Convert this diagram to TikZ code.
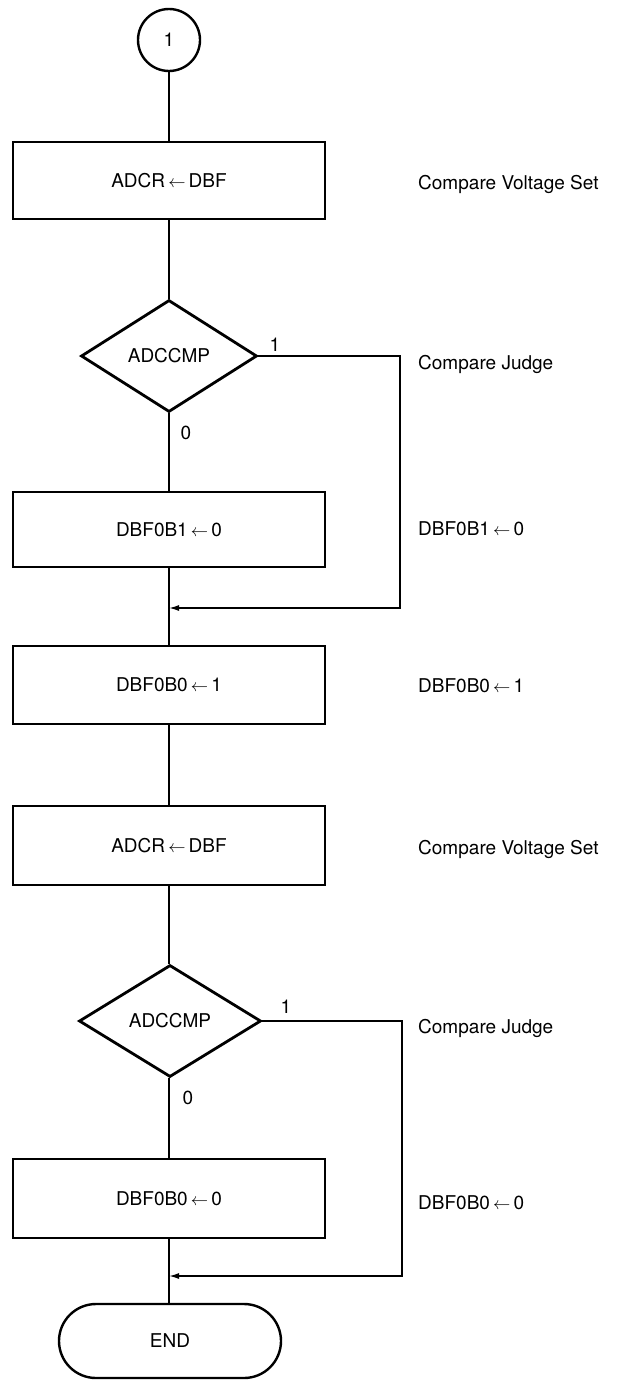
\documentclass[tikz,border=0pt]{standalone}
\usepackage{fontspec}
\setmainfont{TeX Gyre Heros}
\usetikzlibrary{shapes.geometric,shapes.misc,arrows.meta}
\begin{document}
\begin{tikzpicture}[x=1pt,y=-1pt,
  every node/.style={font=\fontsize{19}{22}\selectfont},
  procbox/.style={draw,line width=2.8pt,minimum width=312pt,minimum height=77pt,inner sep=0pt},
  decbox/.style={draw,diamond,line width=2.8pt,minimum width=176pt,minimum height=112pt,inner sep=0pt},
  connbox/.style={draw,circle,line width=2.4pt,minimum size=62pt,inner sep=0pt},
  termbox/.style={draw,rounded rectangle,line width=2.4pt,minimum width=222pt,minimum height=74pt,inner sep=0pt},
  flow/.style={line width=1.5pt},
  arr/.style={line width=1.5pt,-{Latex[length=10pt,width=6pt]}},
  side/.style={anchor=west,inner sep=0pt},
  blab/.style={inner sep=0pt}]
\useasboundingbox (0,0) rectangle (619,1381);
% main nodes
\node[connbox] (c1) at (169,40) {1};
\node[procbox] (b1) at (169,180.5) {ADCR\,$\leftarrow$\,DBF};
\node[decbox] (d1) at (169,356) {ADCCMP};
\node[procbox,minimum height=75pt] (b2) at (169,529.5) {DBF0B1\,$\leftarrow$\,0};
\node[procbox,minimum height=78pt] (b3) at (169,685) {DBF0B0\,$\leftarrow$\,1};
\node[procbox,minimum height=79pt] (b4) at (169,845.5) {ADCR\,$\leftarrow$\,DBF};
\node[decbox,minimum width=182pt] (d2) at (170,1021) {ADCCMP};
\node[procbox,minimum height=79pt] (b5) at (169,1198.5) {DBF0B0\,$\leftarrow$\,0};
\node[termbox] (e1) at (170,1341) {END};
% branch helpers
\coordinate (r1) at (400,356);
\coordinate (m1) at (169,608);
\coordinate (r2) at (402,1021);
\coordinate (m2) at (169,1276);
% connectors
\draw[flow] (c1) -- (b1);
\draw[flow] (b1) -- (d1);
\draw[flow] (d1) -- (b2);
\draw[flow] (b2) -- (b3);
\draw[flow] (b3) -- (b4);
\draw[flow] (b4) -- (b4 |- d2.north);
\draw[flow] (b5 |- d2.south) -- (b5);
\draw[flow] (b5) -- (b5 |- e1.north);
\draw[arr] (d1.east) -- (r1) |- (m1);
\draw[arr] (d2.east) -- (r2) |- (m2);
% branch labels
\node[blab] (l1a) at (275,345) {1};
\node[blab] (l0a) at (186,433) {0};
\node[blab] (l1b) at (286,1007) {1};
\node[blab] (l0b) at (188,1098) {0};
% side annotations
\node[side] (s1) at (418,184) {Compare Voltage Set};
\node[side] (s2) at (418,364) {Compare Judge};
\node[side] (s3) at (418,529) {DBF0B1\,$\leftarrow$\,0};
\node[side] (s4) at (418,686) {DBF0B0\,$\leftarrow$\,1};
\node[side] (s5) at (418,849) {Compare Voltage Set};
\node[side] (s6) at (418,1028) {Compare Judge};
\node[side] (s7) at (418,1203) {DBF0B0\,$\leftarrow$\,0};
\end{tikzpicture}
\end{document}
